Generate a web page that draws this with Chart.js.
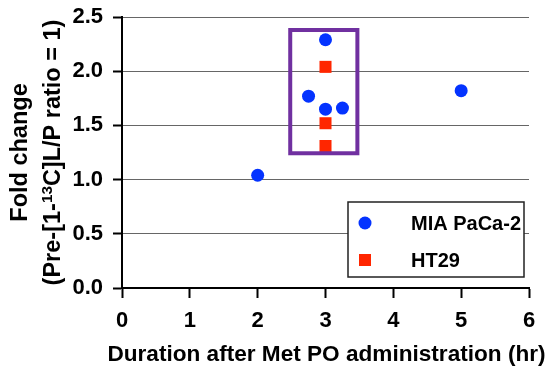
<!DOCTYPE html>
<html>
<head>
<meta charset="utf-8">
<script src="https://cdn.jsdelivr.net/npm/chart.js@4"></script>
<style>
    body { margin: 0; background: #fff; }
    #wrap { width: 549px; height: 370px; }
</style>
</head>
<body>
<div id="wrap"><canvas id="foldChart"></canvas></div>
<script>
// dados
const miaX = [2, 2.75, 3, 3, 3.25, 5];
const miaY = [1.04, 1.77, 2.29, 1.65, 1.66, 1.82];
const ht29X = [3, 3, 3];
const ht29Y = [2.04, 1.52, 1.31];
const xTicks = [0, 1, 2, 3, 4, 5, 6];
const yTicks = [0, 0.5, 1.0, 1.5, 2.0, 2.5];
// retângulo roxo em torno dos pontos de 3 h (em unidades dos eixos)
const boxX = [2.48, 3.47];
const boxY = [1.243, 2.38];

const fonte = "'Liberation Sans', Arial, Helvetica, sans-serif";
const tituloX = 'Duration after Met PO administration (hr)';

function pontos(xs, ys) {
    return xs.map((x, i) => ({ x: x, y: ys[i] }));
}

// desenha o retângulo roxo usando as escalas
const caixaPlugin = {
    id: 'caixa',
    afterDatasetsDraw(chart) {
        const ctx = chart.ctx;
        const sx = chart.scales.x, sy = chart.scales.y;
        const x1 = sx.getPixelForValue(boxX[0]);
        const x2 = sx.getPixelForValue(boxX[1]);
        const y1 = sy.getPixelForValue(boxY[1]);
        const y2 = sy.getPixelForValue(boxY[0]);
        ctx.save();
        ctx.strokeStyle = '#7030A0';
        ctx.lineWidth = 4;
        ctx.strokeRect(x1, y1, x2 - x1, y2 - y1);
        ctx.restore();
    }
};

// legenda com caixa dentro da área do gráfico
const legendaPlugin = {
    id: 'legendaCaixa',
    afterDatasetsDraw(chart) {
        const ctx = chart.ctx;
        const left = 348, top = 202, w = 176, h = 75;
        ctx.save();
        ctx.fillStyle = '#fff';
        ctx.fillRect(left, top, w, h);
        ctx.strokeStyle = '#222';
        ctx.lineWidth = 1.5;
        ctx.strokeRect(left, top, w, h);
        ctx.font = 'bold 20px ' + fonte;
        ctx.textBaseline = 'middle';
        chart.data.datasets.forEach((ds, i) => {
            const cy = top + 21 + i * 37;
            ctx.fillStyle = ds.backgroundColor;
            if (ds.pointStyle === 'rect') {
                ctx.fillRect(left + 11, cy - 6, 12, 12);
            } else {
                ctx.beginPath();
                ctx.arc(left + 17, cy, 6.5, 0, Math.PI * 2);
                ctx.fill();
            }
            ctx.fillStyle = '#000';
            ctx.fillText(ds.label, left + 63, cy + 1);
        });
        ctx.restore();
    }
};

// títulos dos eixos (o do y em duas linhas, com o 13 sobrescrito)
const titulosPlugin = {
    id: 'titulos',
    afterDraw(chart) {
        const ctx = chart.ctx;
        const area = chart.chartArea;
        const cy = (area.top + area.bottom) / 2;
        const tam = 23.5;
        const fNormal = 'bold ' + tam + 'px ' + fonte;
        const fSup = 'bold ' + (tam * 0.65).toFixed(1) + 'px ' + fonte;
        ctx.save();
        ctx.fillStyle = '#000';
        ctx.textBaseline = 'alphabetic';

        // eixo x
        ctx.font = 'bold 22.6px ' + fonte;
        ctx.textAlign = 'center';
        ctx.textBaseline = 'middle';
        ctx.fillText(tituloX, (area.left + area.right) / 2 + 1, 355);
        ctx.textBaseline = 'alphabetic';

        // linha 1
        ctx.save();
        ctx.translate(27, cy);
        ctx.rotate(-Math.PI / 2);
        ctx.font = fNormal;
        ctx.textAlign = 'center';
        ctx.fillText('Fold change', 0, 0);
        ctx.restore();

        // linha 2
        const partes = [
            { t: '(Pre-[1-', sup: false },
            { t: '13', sup: true },
            { t: 'C]L/P ratio = 1)', sup: false }
        ];
        let total = 0;
        partes.forEach(p => {
            ctx.font = p.sup ? fSup : fNormal;
            p.w = ctx.measureText(p.t).width;
            total += p.w;
        });
        ctx.save();
        ctx.translate(60, cy);
        ctx.rotate(-Math.PI / 2);
        ctx.textAlign = 'left';
        let x = -total / 2;
        partes.forEach(p => {
            ctx.font = p.sup ? fSup : fNormal;
            ctx.fillText(p.t, x, p.sup ? -tam * 0.36 : 0);
            x += p.w;
        });
        ctx.restore();
        ctx.restore();
    }
};

const ctx = document.getElementById('foldChart').getContext('2d');
new Chart(ctx, {
    type: 'scatter',
    data: {
        datasets: [{
            label: 'MIA PaCa-2',
            data: pontos(miaX, miaY),
            backgroundColor: '#0433FF',
            borderWidth: 0,
            pointStyle: 'circle',
            pointRadius: 6.5
        }, {
            label: 'HT29',
            data: pontos(ht29X, ht29Y),
            backgroundColor: '#FF2600',
            borderWidth: 0,
            pointStyle: 'rect',
            pointRadius: 8.5
        }]
    },
    options: {
        responsive: true,
        maintainAspectRatio: false,
        animation: false,
        layout: { padding: { top: 17, right: 20, left: 0, bottom: 0 } },
        plugins: {
            legend: { display: false },
            tooltip: { enabled: false }
        },
        scales: {
            x: {
                type: 'linear',
                min: 0,
                max: 6,
                afterFit: (scale) => { scale.height = 82; },
                afterBuildTicks: (scale) => { scale.ticks = xTicks.map(v => ({ value: v })); },
                border: { color: '#000', width: 2 },
                grid: {
                    drawOnChartArea: false,
                    drawTicks: true,
                    tickLength: 10,
                    tickColor: '#000',
                    tickWidth: 2
                },
                ticks: {
                    color: '#000',
                    padding: 10,
                    font: { size: 22, weight: 'bold', family: fonte },
                    callback: (v) => v
                },
                title: { display: false }
            },
            y: {
                type: 'linear',
                min: 0,
                max: 2.5,
                afterFit: (scale) => {
                    scale.width = 122;
                    scale.paddingTop = 0;
                    scale.paddingBottom = 0;
                },
                afterBuildTicks: (scale) => { scale.ticks = yTicks.map(v => ({ value: v })); },
                border: { color: '#000', width: 2 },
                grid: {
                    color: '#666',
                    lineWidth: 1,
                    borderDash: [1, 1],
                    drawTicks: true,
                    tickLength: 9,
                    tickColor: '#000',
                    tickWidth: 2,
                    tickBorderDash: []
                },
                ticks: {
                    color: '#000',
                    padding: 10,
                    font: { size: 22, weight: 'bold', family: fonte },
                    callback: (v) => v.toFixed(1)
                },
                title: { display: false }
            }
        }
    },
    plugins: [caixaPlugin, legendaPlugin, titulosPlugin]
});
</script>
</body>
</html>
